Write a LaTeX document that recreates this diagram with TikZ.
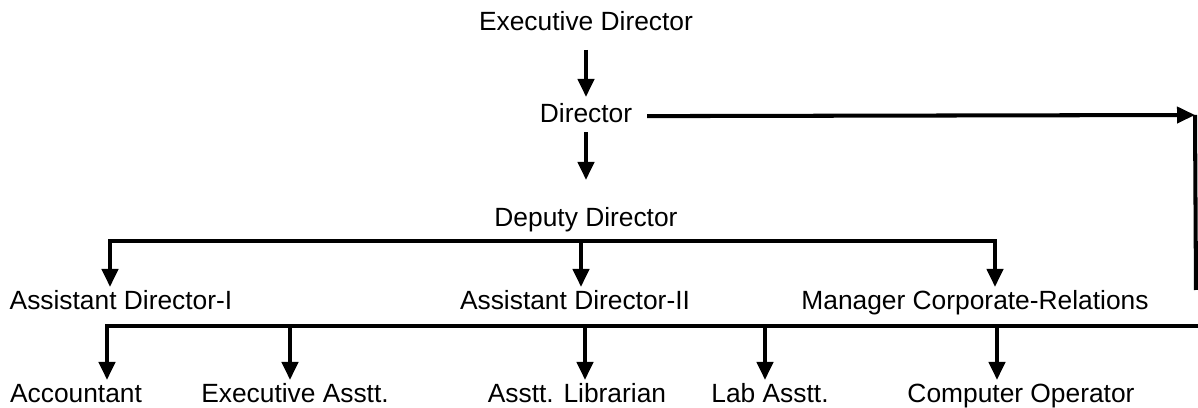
\documentclass[tikz,border=0pt]{standalone}
\usepackage{fontspec}
\setmainfont{Liberation Sans}
\usetikzlibrary{arrows.meta}

\begin{document}
\begin{tikzpicture}[x=0.02cm,y=-0.02cm,
  line width=2.3pt,
  post/.style={font=\fontsize{15}{18}\selectfont,inner sep=0pt,outer sep=2.3pt,
    text height=10.8pt,text depth=3.1pt,anchor=base},
  down/.style={-{Triangle[length=0.36cm,width=0.32cm]}},
  bus/.style={line cap=rect}]
  \useasboundingbox (0,0) rectangle (1198,408);

  \node[post] (exec) at (586,31) {Executive Director};
  \node[post] (dir) at (586,123) {Director};
  \node[post] (dep) at (586,227) {Deputy Director};
  \node[post] (ad1) at (121,310) {Assistant Director-I};
  \node[post] (ad2) at (575,310) {Assistant Director-II};
  \node[post] (mcr) at (975,310) {Manager Corporate-Relations};
  \node[post] (acc) at (76,403) {Accountant};
  \node[post] (easst) at (295,403) {Executive Asstt.};
  \node[post] (lib) at (577,403) {Asstt. Librarian};
  \node[post] (lab) at (770,403) {Lab Asstt.};
  \node[post] (comp) at (1021,403) {Computer Operator};

  % taps on the two buses
  \coordinate (up1) at (110,241);
  \coordinate (up2) at (581,241);
  \coordinate (up3) at (995,241);
  \coordinate (lo1) at (107,326);
  \coordinate (lo2) at (290,326);
  \coordinate (lo3) at (585,326);
  \coordinate (lo4) at (765,326);
  \coordinate (lo5) at (997,326);
  \coordinate (loend) at (1198,326);
  \coordinate (dirtip) at (1195,115);
  \coordinate (riseend) at (1196,290);

  \path[down]
   (exec) edge[shorten <=0.19cm,shorten >=0.06cm] (dir)
   (dir) edge[shorten >=0.48cm] (dep);
  \draw[down,shorten <=0.22cm] (dir) -- (dirtip);
  \draw (dirtip) -- (riseend);

  \draw[bus] (up1) -- (up3);
  \draw[down] (up1) -- (up1 |- ad1.north);
  \draw[down] (up2) -- (up2 |- ad2.north);
  \draw[down] (up3) -- (up3 |- mcr.north);

  \draw[bus] (lo1) -- (loend);
  \draw[down] (lo1) -- (lo1 |- acc.north);
  \draw[down] (lo2) -- (lo2 |- easst.north);
  \draw[down] (lo3) -- (lo3 |- lib.north);
  \draw[down] (lo4) -- (lo4 |- lab.north);
  \draw[down] (lo5) -- (lo5 |- comp.north);
\end{tikzpicture}
\end{document}
